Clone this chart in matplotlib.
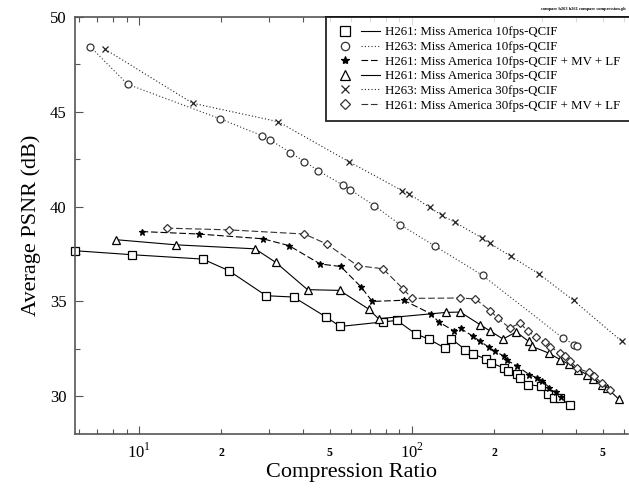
import matplotlib
matplotlib.use("Agg")
import matplotlib.pyplot as plt
from matplotlib.lines import Line2D
from matplotlib.legend_handler import HandlerTuple
from matplotlib.ticker import FixedLocator, FixedFormatter

plt.rcParams['font.family'] = ['Liberation Serif', 'DejaVu Serif']
plt.rcParams['mathtext.fontset'] = 'custom'
plt.rcParams['mathtext.rm'] = 'Liberation Serif'

# Datos (ratio de compresion, PSNR medio)
sq_x = [5.82, 9.4, 17.1, 21.3, 29.2, 36.8, 48.4, 54.6, 78.3, 88.1, 103.4, 115.1, 131.7, 139.0,
        156.9, 166.9, 186.2, 195.4, 216.7, 224.2, 242.7, 249.5, 265.5, 297.2, 315.3, 330.5,
        349.8, 378.4]
sq_y = [37.67, 37.46, 37.23, 36.62, 35.30, 35.23, 34.18, 33.68, 33.92, 34.00, 33.28, 33.02,
        32.55, 33.04, 32.46, 32.23, 31.98, 31.76, 31.50, 31.32, 31.18, 30.97, 30.62, 30.53,
        30.14, 29.92, 29.92, 29.53]

circ_x = [6.61, 9.06, 19.8, 28.3, 30.2, 35.8, 40.3, 45.4, 56.1, 59.4, 72.7, 90.6, 121.0,
          181.5, 357.7, 393.6, 402.7]
circ_y = [48.42, 46.44, 44.62, 43.72, 43.51, 42.84, 42.37, 41.88, 41.11, 40.88, 40.05, 39.04,
          37.93, 36.37, 33.07, 32.72, 32.63]

star_x = [10.2, 16.5, 28.4, 35.4, 46.1, 54.8, 65.0, 71.5, 93.2, 117.7, 125.2, 142.1, 150.7,
          167.1, 178.0, 190.9, 201.6, 216.7, 223.0, 242.7, 269.2, 287.3, 299.7, 318.8, 337.6,
          352.8]
star_y = [38.68, 38.55, 38.30, 37.94, 36.97, 36.84, 35.77, 35.00, 35.06, 34.34, 33.92, 33.46,
          33.58, 33.17, 32.89, 32.60, 32.37, 32.13, 31.90, 31.60, 31.14, 30.98, 30.83, 30.46,
          30.22, 29.96]

tri_x = [8.24, 13.67, 26.6, 31.7, 41.4, 54.3, 69.3, 75.4, 133.5, 150.3, 178.0, 192.6, 215.7,
         241.3, 267.6, 275.4, 317, 350, 375, 408, 438, 463, 498, 519, 572.5]
tri_y = [38.25, 37.98, 37.77, 37.05, 35.62, 35.58, 34.60, 34.09, 34.42, 34.44, 33.77, 33.46,
         33.02, 33.39, 32.90, 32.63, 32.28, 31.93, 31.70, 31.40, 31.14, 30.92, 30.62, 30.44,
         29.86]

cross_x = [7.5, 15.7, 32.3, 58.9, 91.9, 97.7, 116.0, 128.8, 144.1, 180.6, 192.6, 230.7, 291.3,
           391.4, 589]
cross_y = [48.28, 45.44, 44.47, 42.35, 40.84, 40.67, 39.95, 39.53, 39.16, 38.34, 38.07, 37.37,
           36.46, 35.05, 32.89]

dia_x = [12.6, 21.3, 40.3, 48.8, 63.2, 78.3, 92.7, 100.0, 150.4, 170.6, 193.6, 206.0, 228.0,
         249.6, 265.5, 285.6, 308.2, 321.5, 349.8, 364.8, 380.6, 402.7, 444.4, 463.6, 497.6,
         533.7]
dia_y = [38.86, 38.77, 38.55, 38.02, 36.88, 36.72, 35.67, 35.16, 35.18, 35.13, 34.51, 34.13,
         33.60, 33.86, 33.42, 33.13, 32.84, 32.60, 32.28, 32.14, 31.84, 31.49, 31.26, 31.05,
         30.70, 30.35]

labels = [
    "H261: Miss America 10fps-QCIF",
    "H263: Miss America 10fps-QCIF",
    "H261: Miss America 10fps-QCIF + MV + LF",
    "H261: Miss America 30fps-QCIF",
    "H263: Miss America 30fps-QCIF",
    "H261: Miss America 30fps-QCIF + MV + LF",
]

series = [
    (sq_x, sq_y, 's', '-', 6.0, 'black'),
    (circ_x, circ_y, 'o', (0, (1, 2)), 5.0, '#333333'),
    (star_x, star_y, '*', (0, (6, 2.5)), 5.0, 'black'),
    (tri_x, tri_y, '^', '-', 5.5, 'black'),
    (cross_x, cross_y, 'x', (0, (1, 2)), 5.0, '#222222'),
    (dia_x, dia_y, 'D', (0, (6, 2.5)), 4.5, '#333333'),
]

fig = plt.figure(figsize=(6.29, 4.92), dpi=100)
ax = fig.add_axes([0.1188, 0.1173, 0.8797, 0.8488])

handles = []
for (x, y, m, ls, ms, c) in series:
    mfc = c if m == '*' else 'white'
    ax.plot(x, y, color=c, linestyle=ls, linewidth=0.8, marker=m, markersize=ms,
            markerfacecolor=mfc, markeredgecolor=c, markeredgewidth=0.9, clip_on=False)
    mk = Line2D([], [], linestyle='none', marker=m, markersize=ms + 1, color=c,
                markerfacecolor=mfc, markeredgewidth=0.9)
    ln = Line2D([], [], linestyle=ls, linewidth=0.8, color=c)
    handles.append((mk, ln))

ax.set_xscale('log')
ax.set_xlim(5.8, 620)
ax.set_ylim(28, 50)

# ticks del eje x
ax.xaxis.set_major_locator(FixedLocator([10, 100]))
ax.xaxis.set_major_formatter(FixedFormatter([r'$10^{1}$', r'$10^{2}$']))
minor = [6, 7, 8, 9, 20, 30, 40, 50, 60, 70, 80, 90, 200, 300, 400, 500, 600]
ax.xaxis.set_minor_locator(FixedLocator(minor))
ax.xaxis.set_minor_formatter(FixedFormatter(['2' if v in (20, 200) else '5' if v in (50, 500) else ''
                                            for v in minor]))
ax.set_yticks([30, 35, 40, 45, 50])
ax.set_yticks([32.5, 37.5, 42.5, 47.5], minor=True)

ax.tick_params(which='both', direction='in', top=True, right=False, colors='#555555',
               labelcolor='black')
ax.tick_params(which='major', length=6, width=0.8, labelsize=12, pad=6)
ax.tick_params(which='minor', length=3.5, width=0.8)
ax.tick_params(axis='x', which='minor', labelsize=8.5, pad=9)
ax.tick_params(axis='x', which='major', pad=6)
for lab in ax.xaxis.get_minorticklabels():
    lab.set_fontweight('bold')

for s in ['left', 'bottom', 'top']:
    ax.spines[s].set_color('#555555')
    ax.spines[s].set_linewidth(1.2)
ax.spines['right'].set_visible(False)

ax.set_xlabel('Compression Ratio', fontsize=16, labelpad=1)
ax.set_ylabel('Average PSNR (dB)', fontsize=16, labelpad=6)

leg = ax.legend(handles, labels, handler_map={tuple: HandlerTuple(ndivide=None, pad=0.6)},
                loc='upper left', bbox_to_anchor=(0.454, 1.0), borderaxespad=0,
                fontsize=9.3, handlelength=3.4, handletextpad=0.4, labelspacing=0.2,
                borderpad=0.75, frameon=True, fancybox=False)
leg.get_frame().set_edgecolor('black')
leg.get_frame().set_linewidth(1.4)

fig.text(0.994, 0.985, 'compare h263 h261 compare compression.gh', ha='right', va='top',
         fontsize=3.2, fontweight='bold')

fig.savefig('out.png', dpi=100)
